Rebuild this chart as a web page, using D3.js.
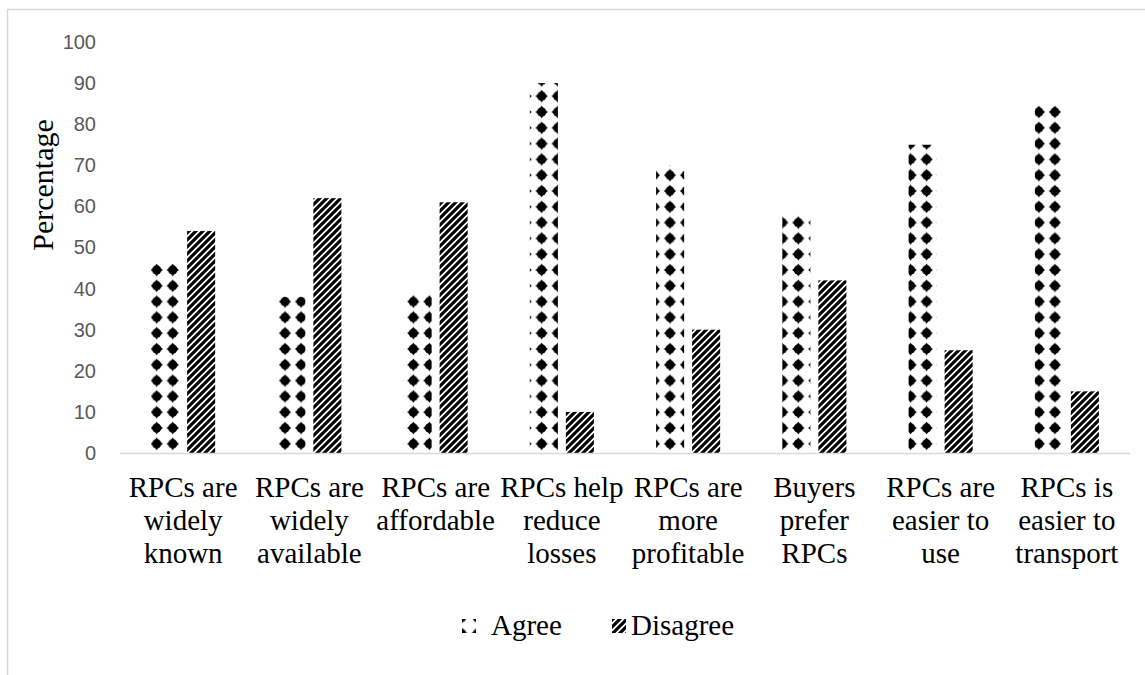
<!DOCTYPE html>
<html>
<head>
<meta charset="utf-8">
<script src="https://cdn.jsdelivr.net/npm/d3@7"></script>
<style>
  html, body { margin: 0; padding: 0; background: #ffffff; }
  svg { display: block; }
</style>
</head>
<body>
<div id="chart"></div>
<script>
// Survey responses on reusable plastic crates (RPCs), in percent
const categories = [
  "RPCs are\nwidely\nknown",
  "RPCs are\nwidely\navailable",
  "RPCs are\naffordable",
  "RPCs help\nreduce\nlosses",
  "RPCs are\nmore\nprofitable",
  "Buyers\nprefer\nRPCs",
  "RPCs are\neasier to\nuse",
  "RPCs is\neasier to\ntransport"
];
const seriesNames = ["Agree", "Disagree"];
const agreeValues = [46, 38, 39, 90, 70, 58, 75, 85];
const disagreeValues = [54, 62, 61, 10, 30, 42, 25, 15];
const yTicks = [0, 10, 20, 30, 40, 50, 60, 70, 80, 90, 100];

const W = 1145, H = 675;
const margin = { left: 120, right: 15, top: 42, bottom: 223 };
const serif = "'Liberation Serif', 'Times New Roman', serif";

const svg = d3.select("#chart").append("svg")
  .attr("width", W).attr("height", H);

// Fill patterns: solid diamonds for Agree, upward diagonal hatch for Disagree.
// Both tile in page space so every bar shares one grid.
const defs = svg.append("defs");
const pw = 16.04, ph = 15.8;
const diamond = defs.append("pattern")
  .attr("id", "pat-agree")
  .attr("patternUnits", "userSpaceOnUse")
  .attr("x", 156.7 - pw / 2).attr("y", 270 - ph / 2)
  .attr("width", pw).attr("height", ph);
diamond.append("rect").attr("width", pw).attr("height", ph).attr("fill", "#fff");
const dg = diamond.append("g").attr("transform", `translate(${pw / 2},${ph / 2})`);
dg.append("circle").attr("r", 4.7).attr("fill", "#000");
dg.append("path")
  .attr("d", "M0,-6.4 L2.4,-2.8 L6.2,0 L2.4,2.8 L0,6.4 L-2.4,2.8 L-6.2,0 L-2.4,-2.8 Z")
  .attr("fill", "#000");

const hs = 7;
const hatch = defs.append("pattern")
  .attr("id", "pat-disagree")
  .attr("patternUnits", "userSpaceOnUse")
  .attr("width", hs).attr("height", hs);
hatch.append("rect").attr("width", hs).attr("height", hs).attr("fill", "#fff");
hatch.append("path")
  .attr("d", `M0,${hs} L${hs},0 M${-hs/2},${hs/2} L${hs/2},${-hs/2} M${hs/2},${hs*1.5} L${hs*1.5},${hs/2}`)
  .attr("stroke", "#000").attr("stroke-width", 3.2).attr("stroke-linecap", "square");

const fills = { Agree: "url(#pat-agree)", Disagree: "url(#pat-disagree)" };

// Outer chart frame
svg.append("rect")
  .attr("x", 7.5).attr("y", 9.5)
  .attr("width", 1150).attr("height", 700)
  .attr("fill", "none").attr("stroke", "#d9d9d9").attr("stroke-width", 1.5);

const x0 = d3.scaleBand().domain(categories).range([margin.left, W - margin.right]);
const x1 = d3.scaleBand().domain(seriesNames)
  .range([31.1, x0.bandwidth() - 31.1]).paddingInner(0.222);
const y = d3.scaleLinear().domain([0, 100]).range([H - margin.bottom + 1, margin.top]);

const bars = categories.flatMap((c, i) => [
  { category: c, series: "Agree", value: agreeValues[i] },
  { category: c, series: "Disagree", value: disagreeValues[i] }
]);

// Y axis labels (no gridlines)
const yAxis = svg.append("g")
  .attr("transform", `translate(${margin.left},0)`)
  .call(d3.axisLeft(y).tickValues(yTicks).tickSize(0).tickPadding(24));
yAxis.select(".domain").remove();
yAxis.selectAll("text")
  .attr("fill", "#595959")
  .style("font-family", "'Liberation Sans', Arial, sans-serif")
  .style("font-size", "20px");

// Bars
svg.append("g").selectAll("rect")
  .data(bars)
  .join("rect")
  .attr("x", d => x0(d.category) + x1(d.series))
  .attr("width", x1.bandwidth())
  .attr("y", d => y(d.value))
  .attr("height", d => y(0) - y(d.value))
  .attr("fill", d => fills[d.series]);

// Category axis line
svg.append("line")
  .attr("x1", margin.left).attr("x2", W - margin.right)
  .attr("y1", y(0) + 0.5).attr("y2", y(0) + 0.5)
  .attr("stroke", "#d9d9d9").attr("stroke-width", 1.5);

// Category labels, one tspan per line
const labels = svg.append("g").selectAll("text")
  .data(categories)
  .join("text")
  .attr("text-anchor", "middle")
  .attr("fill", "#000")
  .style("font-family", serif)
  .style("font-size", "29px");
labels.each(function(c) {
  const t = d3.select(this);
  c.split("\n").forEach((line, i) => {
    t.append("tspan")
      .attr("x", x0(c) + x0.bandwidth() / 2)
      .attr("y", 497 + i * 33)
      .text(line);
  });
});

// Y axis title
svg.append("text")
  .attr("transform", "translate(53,185) rotate(-90)")
  .attr("text-anchor", "middle")
  .style("font-family", serif)
  .style("font-size", "30px")
  .text("Percentage");

// Legend
const legendItems = [
  { name: "Agree", kx: 462, tx: 491 },
  { name: "Disagree", kx: 612, tx: 631 }
];
const legend = svg.append("g").selectAll("g")
  .data(legendItems)
  .join("g");
legend.append("rect")
  .attr("x", d => d.kx).attr("y", 619)
  .attr("width", 14).attr("height", 14)
  .attr("fill", d => fills[d.name]);
legend.append("text")
  .attr("x", d => d.tx).attr("y", 635)
  .style("font-family", serif)
  .style("font-size", "29px")
  .text(d => d.name);
</script>
</body>
</html>
